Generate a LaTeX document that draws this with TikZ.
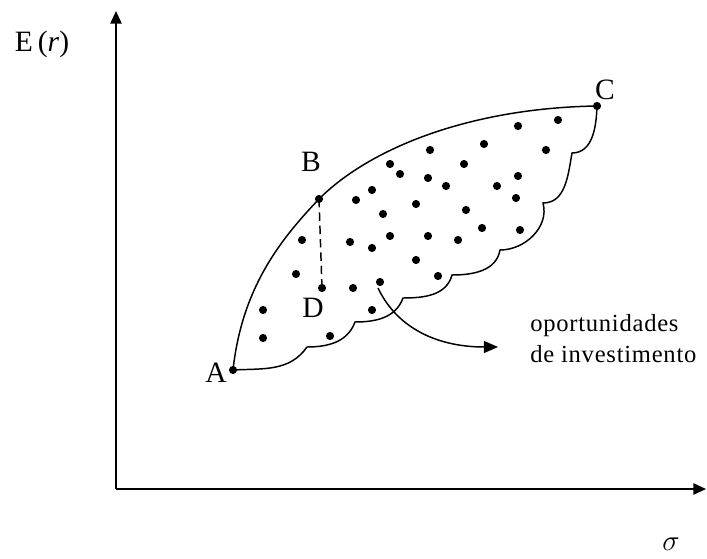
\documentclass[tikz,border=0pt]{standalone}
\usepackage{fontspec}
\setmainfont{Liberation Serif}
\newfontfamily\notefont[LetterSpace=3]{Liberation Serif}
\usepackage{tikz}
\usetikzlibrary{arrows.meta}
\tikzset{axis/.style={line width=1.3pt, -{Triangle[length=9pt, width=8pt]}},
  bound/.style={line width=1.05pt},
  lbl/.style={font=\fontsize{21}{24}\selectfont, inner sep=0pt},
  note/.style={font=\notefont\fontsize{17.5}{22}\selectfont, align=left, inner sep=0pt}}

\begin{document}
\begin{tikzpicture}[x=0.025cm, y=0.025cm]
\useasboundingbox (0,0) rectangle (707,558);
% axes
\coordinate (O) at (116,69);
\coordinate (ytop) at (116,547);
\coordinate (xend) at (706,69);
\draw[axis] (O) -- (ytop);
\draw[axis] (O) -- (xend);
\node[lbl] (Er) at (42,514) {E\,(\textit{r})};
\node[lbl] (sig) at (671,14) {$\sigma$};
% frontier points and cusps of the lower edge
\coordinate (A) at (233,188);
\coordinate (B) at (319,359);
\coordinate (C) at (597,452);
\coordinate (D) at (322,270);
\coordinate (c1) at (307,211);
\coordinate (c2) at (355,236);
\coordinate (c3) at (403,260);
\coordinate (c4) at (452,283);
\coordinate (c5) at (500,308);
\coordinate (c6) at (543,355);
\coordinate (c7) at (572,405);
\draw[bound] (A) .. controls (242,270) and (280,318) .. (B)
  .. controls (370,410) and (470,450) .. (C);
\draw[bound] (A) to[out=3, in=-125] (c1) to[out=0, in=-110] (c2)
  to[out=0, in=-110] (c3) to[out=0, in=-105] (c4) to[out=0, in=-100] (c5)
  to[out=0, in=-75] (c6) to[out=0, in=-100] (c7) to[out=0, in=-92] (C);
\draw[bound, dash pattern=on 6pt off 3.5pt] (B) -- (D);
\foreach \p in {A,B,C,D} \fill (\p) circle (2.9pt);
% portfolios inside the region
\foreach \x/\y in {558/438, 518/432, 430/408, 484/414, 546/408, 390/394,
  464/394, 400/384, 428/380, 518/382, 446/372, 497/372, 372/368, 356/358,
  516/360, 416/354, 383/344, 466/348, 482/330, 520/328, 302/318, 350/316,
  372/310, 390/322, 428/322, 458/318, 416/298, 438/282, 296/284, 353/270,
  380/276, 372/248, 263/248, 263/220, 330/222}
  \fill (\x,\y) circle (2.9pt);
% labels
\node[lbl] (lA) at (216,185) {A};
\node[lbl] (lB) at (311,396) {B};
\node[lbl] (lC) at (605,468) {C};
\node[lbl] (lD) at (313,250) {D};
\node[note, anchor=north west] (opp) at (530,244) {oportunidades\\de investimento};
\coordinate (arrstart) at (378,270);
\coordinate (arrtip) at (498,211);
\draw[bound, -{Triangle[length=10pt, width=8.5pt]}] (arrstart)
  .. controls (398,228) and (440,211) .. (arrtip);
\end{tikzpicture}
\end{document}
